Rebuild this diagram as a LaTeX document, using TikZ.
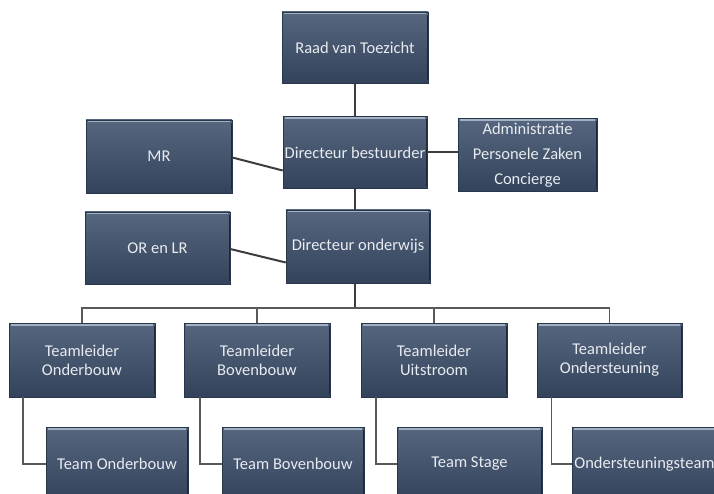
\documentclass[tikz,border=0pt]{standalone}
\usepackage{fontspec}
\setmainfont{Carlito}
\definecolor{boxtop}{HTML}{56667F}
\definecolor{boxbot}{HTML}{33435B}
\definecolor{bevel}{HTML}{A3B1C4}
\definecolor{txt}{HTML}{E8EBF0}
\definecolor{lnc}{HTML}{3C3C3C}
\tikzset{
  orgbox/.style={draw=boxbot!80!black, line width=0.6pt, top color=boxtop, bottom color=boxbot,
    minimum width=#1, text=txt, font=\fontsize{16.5}{19}\selectfont, align=center, inner sep=0pt},
  orgbox/.default=146pt,
  link/.style={draw=lnc, line width=2pt},
  thin/.style={draw=lnc!85, line width=1.6pt}
}
\newcommand{\bev}[1]{%
  \draw[bevel, line width=1.6pt] ([xshift=2pt,yshift=-2pt]#1.north west) -- ([xshift=-2pt,yshift=-2pt]#1.north east);
  \draw[boxbot!60!black, line width=1pt] ([xshift=-1pt,yshift=3pt]#1.south east) -- ([xshift=-1pt,yshift=-3pt]#1.north east);
}
\begin{document}
\begin{tikzpicture}[x=1pt,y=-1pt]
\useasboundingbox (0,0) rectangle (714,494);
\clip (0,0) rectangle (714,494);
% top nodes
\node[orgbox=146pt, minimum height=71pt] (rvt) at (355,47.5) {Raad van Toezicht};
\node[orgbox=144pt, minimum height=72pt] (db) at (355,152.5) {Directeur bestuurder};
\node[orgbox=139pt, minimum height=73pt, font=\fontsize{16.5}{25}\selectfont] (adm) at (527.5,155) {Administratie\\Personele Zaken\\Concierge};
\node[orgbox=146pt, minimum height=73pt] (mr) at (159,156.5) {MR};
\node[orgbox=145pt, minimum height=72pt] (or) at (157.5,248) {OR en LR};
\node[orgbox=144pt, minimum height=73pt] (do) at (358,246.5) {Directeur onderwijs};
% level 3
\node[orgbox=146pt, minimum height=74pt] (tlo) at (82,360) {Teamleider\\Onderbouw};
\node[orgbox=146pt, minimum height=74pt] (tlb) at (257,360) {Teamleider\\Bovenbouw};
\node[orgbox=146pt, minimum height=74pt] (tlu) at (434,360) {Teamleider\\Uitstroom};
\node[orgbox=145pt, minimum height=74pt] (tls) at (609.5,360) {Teamleider\\Ondersteuning};
% level 4
\node[orgbox=142pt, minimum height=74pt] (to) at (117,464) {Team Onderbouw};
\node[orgbox=142pt, minimum height=74pt] (tb) at (293,464) {Team Bovenbouw};
\node[orgbox=145pt, minimum height=74pt] (ts) at (469.5,464) {Team Stage};
\node[orgbox=145pt, minimum height=74pt] (ost) at (644.5,464) {Ondersteuningsteam};
\foreach \n in {rvt,db,adm,mr,or,do,tlo,tlb,tlu,tls,to,tb,ts,ost} {\bev{\n}}
% connectors
\coordinate (bar) at (355,308);
\draw[link] (rvt.south) -- (db.north);
\draw[link] (db.south) -- ([xshift=-3pt]do.north);
\draw[link] (db.east) -- (adm.west |- db.east);
\draw[link] ([yshift=-1pt]mr.east) -- ([yshift=-18pt]db.west);
\draw[link] ([yshift=-1pt]or.east) -- ([yshift=-16pt]do.west);
\draw[link] ([xshift=-3pt]do.south) -- (bar);
\draw[thin] (tlo.north) -- (tlo.north |- bar) -- (tls.north |- bar) -- (tls.north);
\draw[thin] (tlb.north) -- (tlb.north |- bar);
\draw[thin] (tlu.north) -- (tlu.north |- bar);
\draw[thin] ([xshift=-59pt]tlo.south) |- (to.west);
\draw[thin] ([xshift=-57pt]tlb.south) |- (tb.west);
\draw[thin] ([xshift=-58pt]tlu.south) |- (ts.west);
\draw[thin] ([xshift=-58pt]tls.south) |- (ost.west);
\end{tikzpicture}
\end{document}
